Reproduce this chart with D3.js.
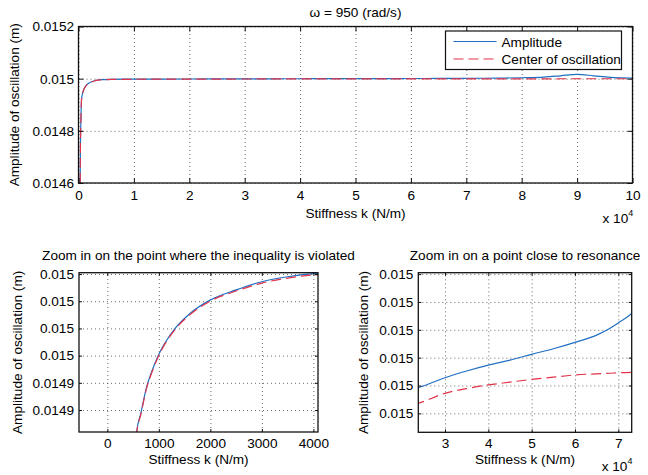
<!DOCTYPE html>
<html>
<head>
<meta charset="utf-8">
<script src="https://cdn.jsdelivr.net/npm/d3@7"></script>
<style>
    body { margin: 0; background: #fff; }
    svg text { font-family: "Liberation Sans", Arial, Helvetica, sans-serif; font-size: 13.6px; fill: #000; }
    .grid line { stroke: #444; stroke-width: 0.8; stroke-dasharray: 1,3; }
    .grid path { display: none; }
    .axis path { display: none; }
    .axis line { stroke: #111; }
    .frame { fill: none; stroke: #111; stroke-width: 1.3; }
</style>
</head>
<body>
<div id="chart"></div>
<script>

// Stiffness k (N/m) and the two curves
const stiffness = [300, 350, 430, 570, 650, 764, 850, 978, 1315, 1600, 1994, 2500, 2997, 3500, 4000,
    6000, 10000, 16000, 23840, 30000, 35000, 40000, 45000, 50000, 55000, 60000, 65000, 68000,
    70000, 73090, 77000, 80000, 84000, 87000, 90000, 93000, 96000, 100000];

const amplitude = [0.014600, 0.014740, 0.014840, 0.0149263, 0.0149345, 0.0149463, 0.0149522, 0.0149595,
    0.0149720, 0.0149785, 0.0149845, 0.0149890, 0.0149926, 0.0149948, 0.0149962,
    0.0149975, 0.0149982, 0.0149986, 0.01499892, 0.01499928, 0.01499952, 0.01499973, 0.01499991,
    0.01500012, 0.01500032, 0.01500055, 0.01500081, 0.01500105, 0.01500125, 0.01500159,
    0.0150024, 0.0150035, 0.0150060, 0.0150110, 0.0150164, 0.0150110, 0.0150050, 0.0150025];

const center = [0.014600, 0.014738, 0.014838, 0.0149258, 0.0149340, 0.0149458, 0.0149517, 0.0149590,
    0.0149715, 0.0149780, 0.0149840, 0.0149885, 0.0149920, 0.0149942, 0.0149956,
    0.0149970, 0.0149977, 0.0149981, 0.01499836, 0.01499872, 0.01499889, 0.01499902, 0.01499912,
    0.01499922, 0.01499930, 0.01499938, 0.01499942, 0.01499944, 0.01499946, 0.01499947,
    0.0149995, 0.0149995, 0.0149995, 0.0149996, 0.0149996, 0.0149996, 0.0149996, 0.0149996];

// Ticks
const topXTicks = [0, 10000, 20000, 30000, 40000, 50000, 60000, 70000, 80000, 90000, 100000];
const topXTickLabels = ["0", "1", "2", "3", "4", "5", "6", "7", "8", "9", "10"];
const topYTicks = [0.0146, 0.0148, 0.015, 0.0152];
const topYTickLabels = ["0.0146", "0.0148", "0.015", "0.0152"];

const leftXTicks = [0, 1000, 2000, 3000, 4000];
const leftXTickLabels = ["0", "1000", "2000", "3000", "4000"];
const leftYTicks = [0.014996, 0.014984, 0.014972, 0.01496, 0.014948, 0.014936];
const leftYTickLabels = ["0.015", "0.015", "0.015", "0.015", "0.0149", "0.0149"];

const rightXTicks = [30000, 40000, 50000, 60000, 70000];
const rightXTickLabels = ["3", "4", "5", "6", "7"];
const rightYTicks = [0.015003, 0.015002, 0.015001, 0.015, 0.014999, 0.014998];
const rightYTickLabels = ["0.015", "0.015", "0.015", "0.015", "0.015", "0.015"];

const legendLabels = ["Amplitude", "Center of oscillation"];
const seriesColors = ["#1f6fc2", "#e2334a"];


class AmplitudePlot {

    constructor(svg, id, cfg) {
        this.svg = svg;
        this.id = id;
        this.cfg = cfg;
        this.initVis();
    }

    initVis() {
        let vis = this;
        let c = vis.cfg;

        vis.g = vis.svg.append("g")
            .attr("transform", `translate(${c.left},${c.top})`);

        vis.x = d3.scaleLinear().domain(c.xDomain).range([0, c.width]);
        vis.y = d3.scaleLinear().domain(c.yDomain).range([c.height, 0]);

        // dotted grid
        vis.g.append("g")
            .attr("class", "grid")
            .attr("transform", `translate(0,${c.height})`)
            .call(d3.axisBottom(vis.x).tickValues(c.xTicks).tickSize(-c.height).tickFormat(""));
        vis.g.append("g")
            .attr("class", "grid")
            .call(d3.axisLeft(vis.y).tickValues(c.yTicks).tickSize(-c.width).tickFormat(""));

        // clip the curves to the plot box
        vis.svg.append("clipPath")
            .attr("id", "clip-" + vis.id)
            .append("rect")
            .attr("width", c.width)
            .attr("height", c.height);

        let points = [d3.zip(stiffness, amplitude), d3.zip(stiffness, center)];
        let line = d3.line()
            .x(d => vis.x(d[0]))
            .y(d => vis.y(d[1]))
            .curve(d3.curveMonotoneX);

        vis.g.append("g")
            .attr("clip-path", `url(#clip-${vis.id})`)
            .selectAll("path")
            .data(points)
            .join("path")
            .attr("fill", "none")
            .attr("stroke", (d, i) => seriesColors[i])
            .attr("stroke-width", 1.2)
            .attr("stroke-dasharray", (d, i) => i == 1 ? "10,5" : null)
            .attr("d", line);

        // ticks on all four sides, pointing inward
        vis.g.append("g")
            .attr("class", "axis")
            .attr("transform", `translate(0,${c.height})`)
            .call(d3.axisBottom(vis.x).tickValues(c.xTicks)
                .tickFormat((d, i) => c.xTickLabels[i])
                .tickSizeInner(-c.tickLen).tickSizeOuter(0).tickPadding(c.xPad));
        vis.g.append("g")
            .attr("class", "axis")
            .call(d3.axisTop(vis.x).tickValues(c.xTicks).tickFormat("")
                .tickSizeInner(-c.tickLen).tickSizeOuter(0));
        vis.g.append("g")
            .attr("class", "axis")
            .call(d3.axisLeft(vis.y).tickValues(c.yTicks)
                .tickFormat((d, i) => c.yTickLabels[i])
                .tickSizeInner(-c.tickLen).tickSizeOuter(0).tickPadding(c.yPad));
        vis.g.append("g")
            .attr("class", "axis")
            .attr("transform", `translate(${c.width},0)`)
            .call(d3.axisRight(vis.y).tickValues(c.yTicks).tickFormat("")
                .tickSizeInner(-c.tickLen).tickSizeOuter(0));

        vis.g.selectAll(".axis text")
            .attr("font-size", null)
            .attr("font-family", null)
            .attr("fill", null);

        vis.g.append("rect")
            .attr("class", "frame")
            .attr("width", c.width)
            .attr("height", c.height);

        // labels
        vis.g.append("text")
            .attr("x", c.width / 2)
            .attr("y", c.titleY)
            .attr("text-anchor", "middle")
            .text(c.title);

        vis.g.append("text")
            .attr("x", c.width / 2)
            .attr("y", c.height + c.xLabelY)
            .attr("text-anchor", "middle")
            .text("Stiffness k (N/m)");

        vis.g.append("text")
            .attr("transform", `translate(${c.yLabelX},${c.height / 2}) rotate(-90)`)
            .attr("text-anchor", "middle")
            .text("Amplitude of oscillation (m)");

        if (c.exponent) {
            let ex = vis.g.append("text")
                .attr("x", c.width - 30)
                .attr("y", c.height + c.exponentY)
                .text("x 10");
            ex.append("tspan")
                .attr("dy", -7)
                .attr("font-size", "9px")
                .text("4");
        }
    }

    addLegend() {
        let vis = this;
        let lg = vis.g.append("g").attr("transform", "translate(367,4.5)");

        lg.append("rect")
            .attr("width", 176)
            .attr("height", 38.5)
            .attr("fill", "#fff")
            .attr("stroke", "#111")
            .attr("stroke-width", 1.2);

        legendLabels.forEach((label, i) => {
            lg.append("line")
                .attr("x1", 8).attr("x2", 51)
                .attr("y1", 10.5 + i * 17.5).attr("y2", 10.5 + i * 17.5)
                .attr("stroke", seriesColors[i])
                .attr("stroke-width", 1.2)
                .attr("stroke-dasharray", i == 1 ? "10,5" : null);
            lg.append("text")
                .attr("x", 56)
                .attr("y", 15.5 + i * 17.5)
                .text(label);
        });
    }
}


const svg = d3.select("#chart").append("svg")
    .attr("width", 648)
    .attr("height", 475);

let topPlot = new AmplitudePlot(svg, "top", {
    left: 78.5, top: 26.5, width: 554, height: 156.5,
    xDomain: [0, 100000], yDomain: [0.0146, 0.0152],
    xTicks: topXTicks, xTickLabels: topXTickLabels,
    yTicks: topYTicks, yTickLabels: topYTickLabels,
    tickLen: 5, xPad: 7.5, yPad: 4.5,
    title: "ω = 950 (rad/s)", titleY: -10,
    xLabelY: 35, yLabelX: -60,
    exponent: true, exponentY: 40
});
topPlot.addLegend();

new AmplitudePlot(svg, "left", {
    left: 79, top: 272.7, width: 239, height: 159.3,
    xDomain: [-550, 4090], yDomain: [0.0149263, 0.0149966],
    xTicks: leftXTicks, xTickLabels: leftXTickLabels,
    yTicks: leftYTicks, yTickLabels: leftYTickLabels,
    tickLen: 3, xPad: 6.5, yPad: 5,
    title: "Zoom in on the point where the inequality is violated", titleY: -13,
    xLabelY: 32, yLabelX: -57,
    exponent: false
});

new AmplitudePlot(svg, "right", {
    left: 418.3, top: 272.7, width: 213.4, height: 159.6,
    xDomain: [23840, 73090], yDomain: [0.01499732, 0.01500305],
    xTicks: rightXTicks, xTickLabels: rightXTickLabels,
    yTicks: rightYTicks, yTickLabels: rightYTickLabels,
    tickLen: 3, xPad: 6.5, yPad: 5,
    title: "Zoom in on a point close to resonance", titleY: -13,
    xLabelY: 32, yLabelX: -50,
    exponent: true, exponentY: 39
});

</script>
</body>
</html>
